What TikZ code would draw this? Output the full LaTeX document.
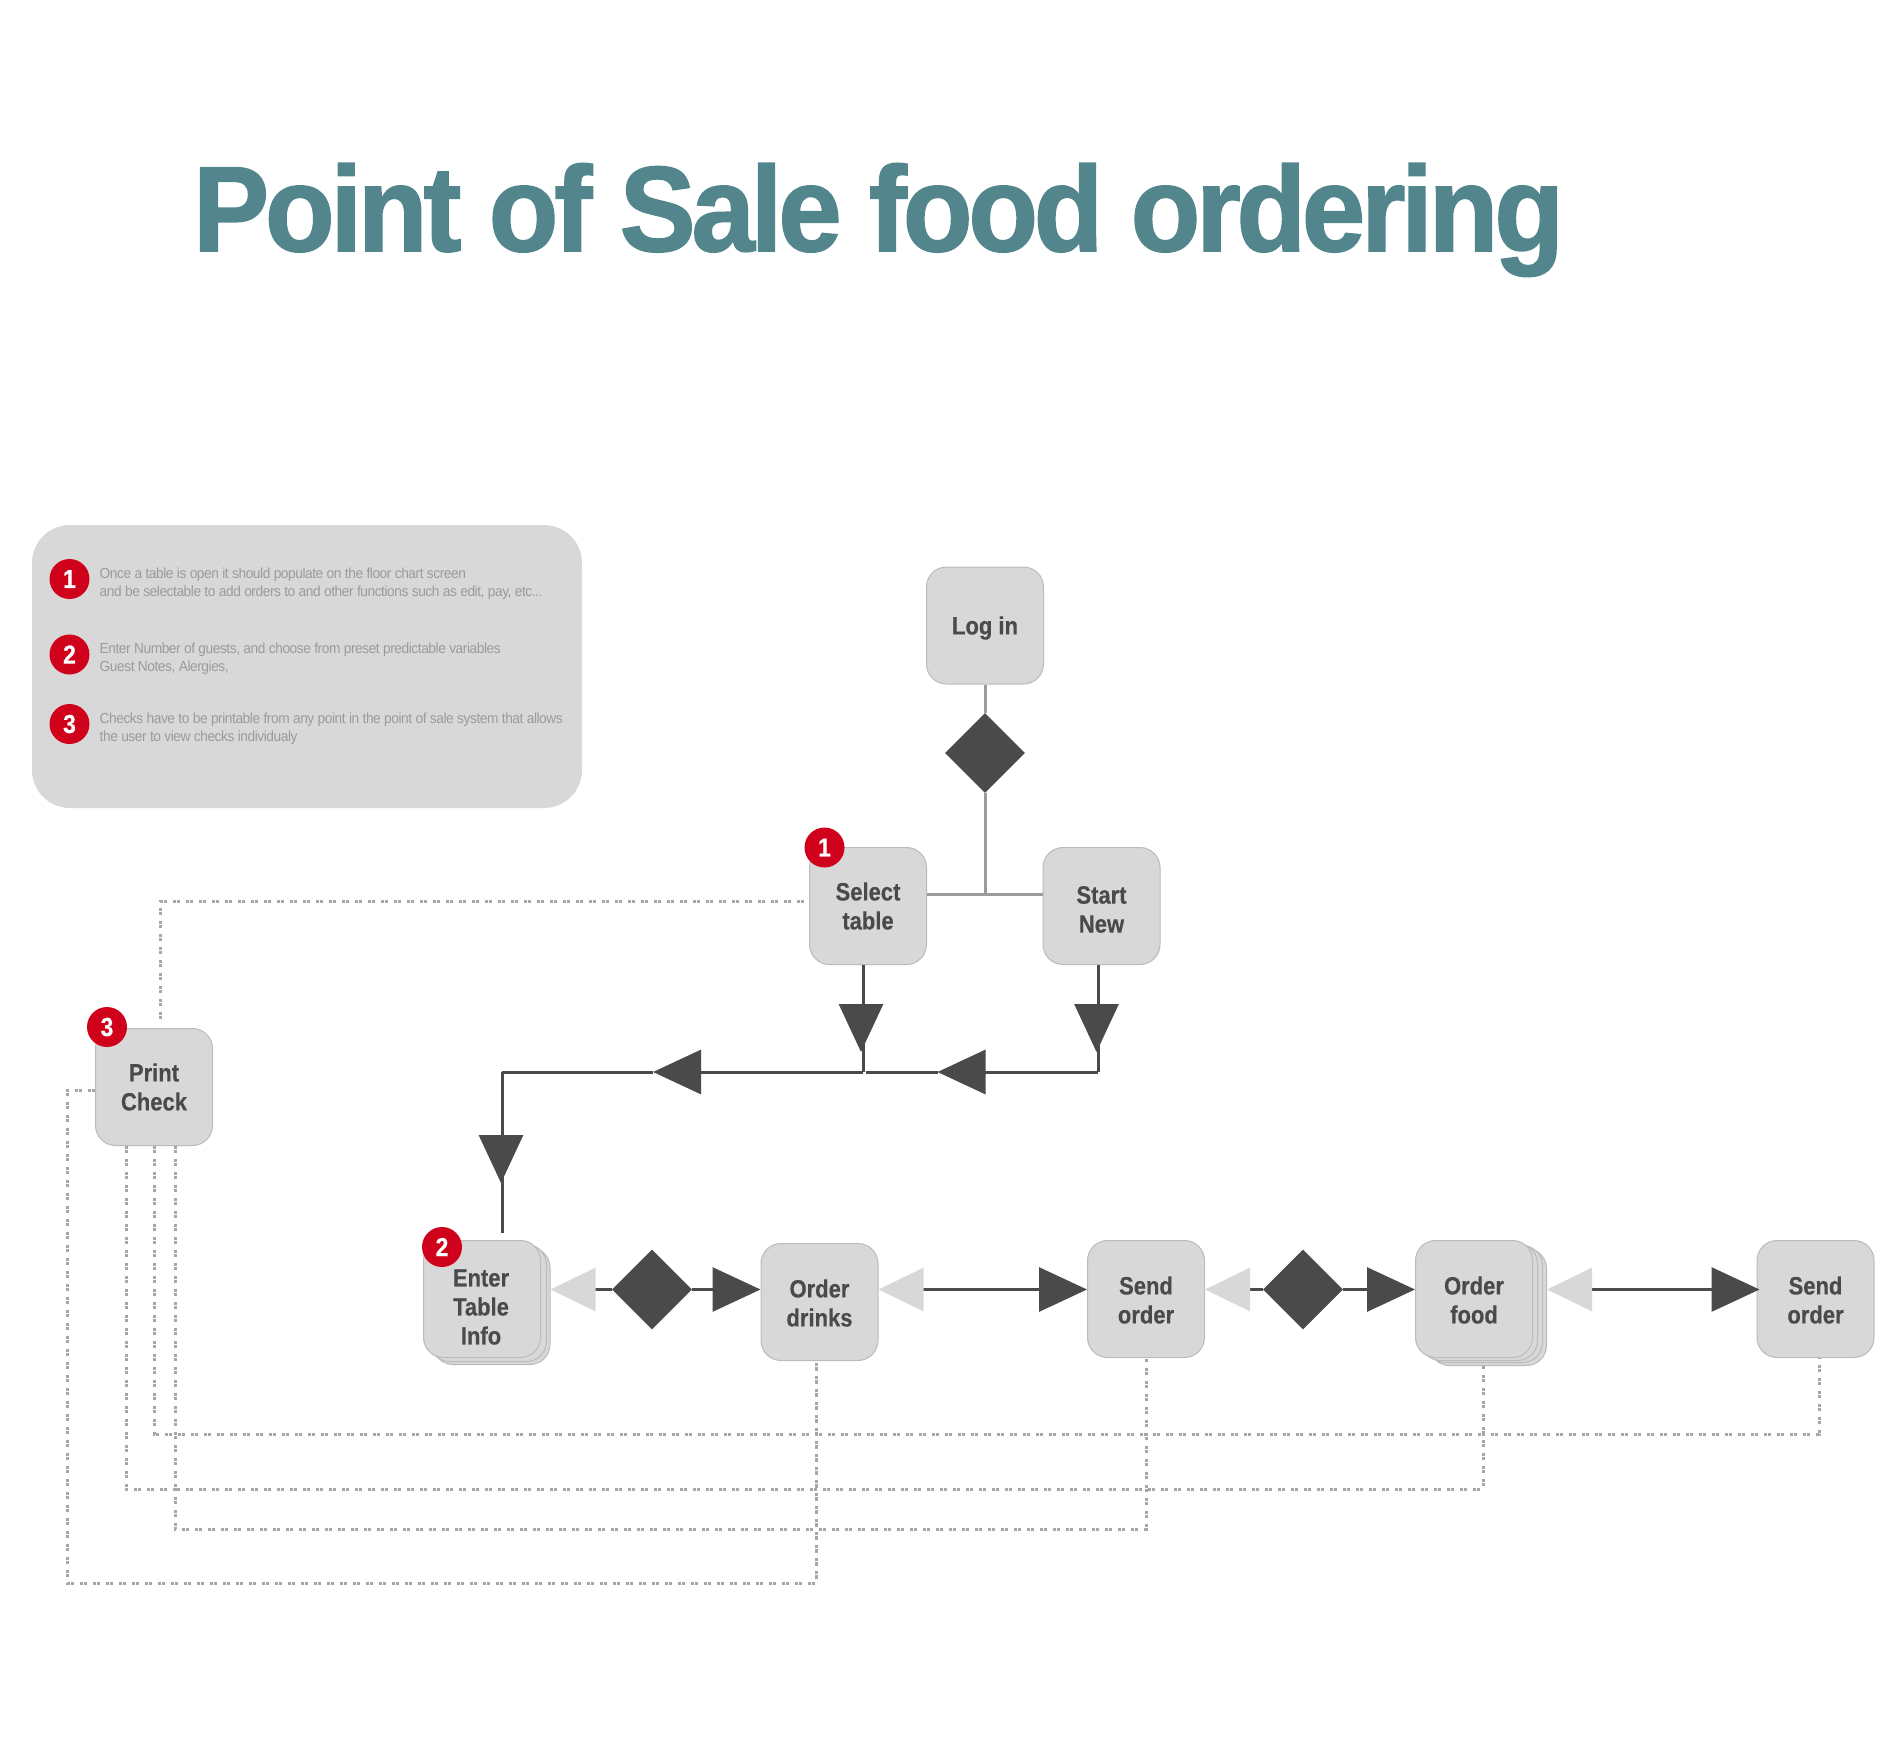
\documentclass[tikz,border=0pt]{standalone}
\usepackage{fontspec}
\usepackage{xcolor}
\usepackage{tikz}
\usetikzlibrary{positioning, arrows.meta, shapes.geometric}
\setmainfont{Liberation Sans}
\newfontfamily\titlefont[LetterSpace=-3.35, FakeStretch=0.94, FakeBold=1.4]{Liberation Sans}
\newfontfamily\notefont[LetterSpace=-3, FakeStretch=0.94]{Liberation Sans}
\newfontfamily\cardfont[FakeStretch=0.88, FakeBold=0.4]{Liberation Sans}
\definecolor{titleteal}{HTML}{53868C}
\definecolor{boxfill}{HTML}{D8D8D8}
\definecolor{boxline}{HTML}{BBBBBB}
\definecolor{inkdark}{HTML}{4A4A4A}
\definecolor{inkgrey}{HTML}{9B9B9B}
\definecolor{dotgrey}{HTML}{A6A6A6}
\definecolor{badgered}{HTML}{D0021B}

\begin{document}
\begin{tikzpicture}[
  x=1pt, y=-1pt,
  box/.style={draw=boxline, line width=1pt, rectangle, rounded corners=20pt,
    minimum width=117pt, minimum height=117pt, inner sep=0pt, align=center,
    fill=boxfill, text=inkdark, font=\fontsize{25}{29}\selectfont\cardfont\bfseries},
  boxtext/.style={align=center, inner sep=0pt, text=inkdark,
    font=\fontsize{25}{29}\selectfont\cardfont\bfseries},
  badge/.style={circle, fill=badgered, text=white, minimum size=40pt, inner sep=0pt,
    font=\fontsize{26}{26}\selectfont\cardfont\bfseries},
  gate/.style={diamond, fill=inkdark, minimum width=80pt, minimum height=80pt, inner sep=0pt},
  note/.style={anchor=west, align=left, inner sep=0pt, text=inkgrey,
    font=\fontsize{14.6}{18}\selectfont\notefont},
  dk/.tip={Triangle[length=48pt, width=44pt, color=inkdark]},
  lt/.tip={Triangle[length=45pt, width=43pt, color=boxfill]},
  flow/.style={line width=3pt, inkdark},
  stem/.style={line width=3pt, inkgrey},
  dots/.style={line width=3pt, dotgrey, dash pattern=on 3.2pt off 1pt on 3.2pt off 5.6pt},
]
  \useasboundingbox (0,0) rectangle (1904,1742);

  % Title
  \node[anchor=base west, inner sep=0pt, text=titleteal,
    font=\fontsize{121}{121}\selectfont\titlefont\bfseries] (title) at (193,251)
    {Point of Sale food ordering};

  % Notes panel
  \node[rectangle, rounded corners=38pt, fill=boxfill, minimum width=550pt,
    minimum height=283pt, inner sep=0pt] (panel) at (307,666.5) {};
  \node[badge] (mark1) at (69.5,579) {1};
  \node[badge] (mark2) at (69.5,654.5) {2};
  \node[badge] (mark3) at (69.5,724) {3};
  \node[note] (note1) at (99.5,583.5) {Once a table is open it should populate on the floor chart screen \\
    and be selectable to add orders to and other functions such as edit, pay, etc...};
  \node[note] (note2) at (99.5,658.5) {Enter Number of guests, and choose from preset predictable variables \\
    Guest Notes, Alergies,};
  \node[note] (note3) at (99.5,728.5) {Checks have to be printable from any point in the point of sale system that allows \\
    the user to view checks individualy};

  % Levels of the dotted links
  \coordinate (rowb) at (67,1583);
  \coordinate (rowc) at (600,1529);
  \coordinate (rowd) at (600,1489);
  \coordinate (rowe) at (600,1434);

  % Row 1: Log in
  \node[box] (login) at (985,625.5) {};
  \node[boxtext] (logintext) at (985,628) {Log in};
  \node[gate] (gate1) at (985,753) {};
  \coordinate (tee) at (985,894);

  % Row 2: Select and Start
  \node[box] (select) at (868,906) {Select\\table};
  \node[box] (start) at (1101.5,906) {};
  \node[boxtext] (starttext) at (1101.5,909.5) {Start\\New};
  \node[box] (print) at (154,1087) {Print\\Check};

  % Row 3: stacks drawn first, top card over them
  \node[box] (enter3) at (491.5,1306) {};
  \node[box] (enter2) at (488,1303) {};
  \node[box] (enter) at (482,1299) {};
  \node[boxtext] (entertext) at (481,1307) {Enter\\Table\\Info};
  \node[box] (drinks) at (819.5,1302) {};
  \node[boxtext] (drinkstext) at (819.5,1303) {Order\\drinks};
  \node[box] (send1) at (1146,1299) {};
  \node[boxtext] (send1text) at (1146,1300) {Send\\order};
  \node[box] (food3) at (1488,1307) {};
  \node[box] (food2) at (1484,1304) {};
  \node[box] (food1) at (1479,1302) {};
  \node[box] (food) at (1474,1299) {};
  \node[boxtext] (foodtext) at (1474,1300) {Order\\food};
  \node[box] (send2) at (1815.5,1299) {};
  \node[boxtext] (send2text) at (1815.5,1300) {Send\\order};
  \node[gate] (gate2) at (652,1289.5) {};
  \node[gate] (gate3) at (1303,1289.5) {};

  % Junctions of the stepped line
  \coordinate (joinsel) at (863,1072);
  \coordinate (joinstart) at (1098,1072);
  \coordinate (joinleft) at (502,1072);
  \coordinate (basesel) at (861,1005);
  \coordinate (tipsel) at (861,1052);
  \coordinate (basestart) at (1096.5,1005);
  \coordinate (tipstart) at (1096.5,1052);
  \coordinate (tipmid) at (937.5,1072);
  \coordinate (tipleft) at (653,1072);
  \coordinate (basedown) at (501,1136);
  \coordinate (tipdown) at (501,1183);

  % Log in down to the tee
  \draw[stem] (login) -- (gate1);
  \draw[stem] (gate1) -- (tee);
  \draw[stem] (select.east |- tee) -- (start.west |- tee);

  % Zigzag to Enter Table Info
  \draw[flow] (select.south -| joinsel) -- (joinsel);
  \draw[flow, -dk] (basesel) -- (tipsel);
  \draw[flow] (start.south -| joinstart) -- (joinstart);
  \draw[flow, -dk] (basestart) -- (tipstart);
  \draw[flow, -dk] (joinstart) -- (tipmid);
  \draw[flow, shorten >=3pt] (tipmid) -- (joinsel);
  \draw[flow, -dk] (joinsel) -- (tipleft);
  \draw[flow, shorten >=7pt] (joinleft) -- (enter.north -| joinleft);
  \draw[flow] (tipleft) -- (joinleft);
  \draw[flow, -dk] (basedown) -- (tipdown);

  % Bottom row arrows
  \draw[flow, lt-] (enter3.east |- gate2) -- (gate2);
  \draw[flow, -dk] (gate2) -- (drinks.west |- gate2);
  \draw[flow, lt-dk] (drinks.east |- gate2) -- (send1.west |- gate2);
  \draw[flow, lt-] (send1.east |- gate3) -- (gate3);
  \draw[flow, -dk] (gate3) -- (food.west |- gate3);
  \draw[flow, lt-dk] (food3.east |- gate3) -- ([xshift=3pt]send2.west |- gate3);

  % Dotted links
  \draw[dots, shorten <=5pt, shorten >=4pt] ([yshift=5pt]select.west) -| ([xshift=6.5pt]print.north);
  \draw[dots] ([yshift=-3.5pt]print.west) -| (rowb) -| ([xshift=-3.5pt]drinks.south);
  \draw[dots] ([xshift=21pt]print.south) |- (rowc) -| (send1.south);
  \draw[dots, shorten >=8pt] ([xshift=-28pt]print.south) |- (rowd) -| ([xshift=9pt]food.south);
  \draw[dots] (print.south) |- (rowe) -| ([xshift=3.5pt]send2.south);

  % Badges on the cards
  \node[badge] (badge1) at (824.5,847.5) {1};
  \node[badge] (badge2) at (442,1247) {2};
  \node[badge] (badge3) at (107,1027) {3};
\end{tikzpicture}
\end{document}
